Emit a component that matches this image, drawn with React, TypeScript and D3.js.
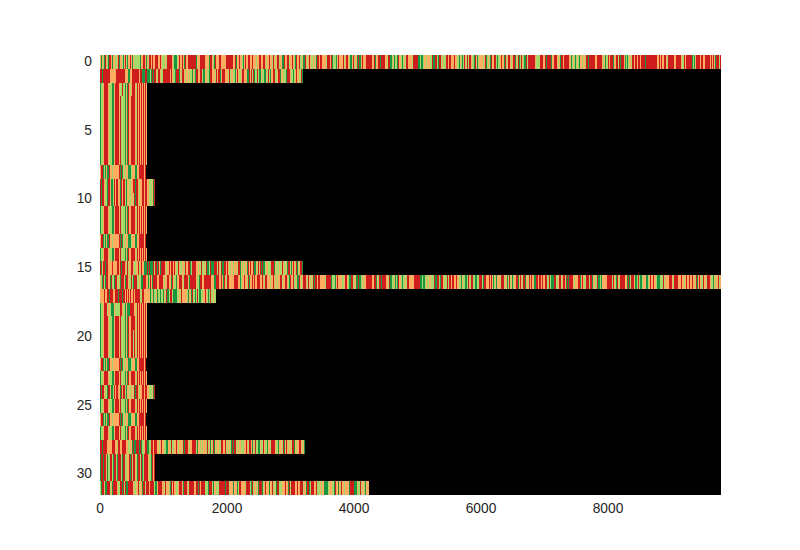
import React from "react";
import * as d3 from "d3";

// Each letter is one run of bases: R, O, L, G.
const baseCodes = ["R", "O", "L", "G"];
const baseColors = ["#cf1c1c", "#fdae61", "#a6d96a", "#1a9641"];

const row0 =
  "OGOLGROLGRROGOLLORGOOLGORLGOOROGOLLLLLLGORROGOLRROROORRROOROLLLOLRRRROLGGGLOROOROGROORRRRRRRRGOORRRRROOOOGRROLGROOORROOOOORRRRRROORGOOROOLGOROORROOROOLOORROORROLOOROOLROLORRLOOGROORRLOOROLGROORLLOGGROLOR" +
  "OLOLOGRRORROOOOLRRRORGLLLGOROOORLORROLGGORLOOGRGGOROOORRRRROORGOORRGRRRROOLRRGGLOGLGROOLGLOLRROOOOLRRRRRGGLGGLOLOOOLLRGGRRLGRRLOLLLRRORROOROOLLGOLGLROLRLRROLLGROGLOOOLORGLOLGROORRLGLLOROOGRLOROLORRGOL" +
  "RGLROLGGRLRRRRRRROLLLRRROORGRRRRGOORRROLOGRRORRRROOGLOLGLOLGOOLOOLRRGRRRRROORRRRROLOGLLRORRRGOORRLRGRROGLGLOOLRRORRORRORRRRGRRRRRRRRRROOROROORROLRRRRRROORRRROLLRORRRRRRGLGORRRRORROORRRROROROGRRRLR";
const row1 =
  "RRGRRRRRRROOOOOORRRRRRRROOOGGOORRRRRRRORRGGGRRGGGLGRGRROLRROLLRRRRRROROLLGRRRGOLRROLOOLOLLGOLGRROORRLGGOOLLGROOOLRORRGORRROOOLRLOOLLGOROLLORROOOGGRORLRGLRLGGOLLGGOLRLGOORRLLORRGOOLLLGRRROLLGLOROOLRG";
const row15 =
  "RGORRGRROOOOROOORRORGRRROLRLOORROLLOORLOROOGGRGRGGGRLRRGROGRRRROLOORORROROLROLLOOLROORRGLRRRROOLOLRLLOLRGLRGGGRRRLROLRGGRROROLLOOLOOOLRGOLOLOOGROROORGGOLRORGRGGLOOLLRRRGOLLLOLLROLLOGRRLGOROLRGLORG";
const row16 =
  "OLGRLGRROGRLLGRRLOLGRRROGROLLRLGRRRLLOLGGRROOGLROGRRRROORRROLOORROOGROLLGOORROLRRRROGRRRRRROLGRROORRRRRRROOOGRRROOROGROLRROOOORRRROOGLOOROOLRGOROROORRROOROLRROOLOOROLOLOORRLOOROLGROORLLOGGROLORROL" +
  "ROLOLRGRRORROOOOLRRRRRGLLLGOROOOLLORROLGGRRLOOGRGGLOLOORRRRRROORGOLRRGRRRROOLRGGLOGLGROOLGLLOLRROOOORRRRRRGGLGGLOLOOLLLRGGRRLGRROLLRLRRORROOROOLLGOLGGLROLRRLLGGLLRRLGRROOOROROGLOGOOLRRRLOOGLRLOGLOO" +
  "RGOROLRRGOOLROROOGRRORROROORRLLRLGGRRLLORRLORROGRGRRROLOOORRGOROLLRRLRRGOOLLRGGLGOOOORRRRRLROLGROLRRRROOGRGLRRROGGLRLGLOOOGGLOROOROOLGGLLLRLOOOORRROLRRROOOROOLOROOROOROLRGOROLLROOLRRROLGOLOORLO";
const row17 =
  "OOOOROORRGRRROORRRGRRRGRROROROROORORRRRRLLRROOOOOOGLOGLLOGLLGLLGOLRGGLRRLGGGGLLOLROOOOOLGOOGRLLGLRLGGLLOOROLGLRLLOLL";
const row28 =
  "RRGRRRROOOORRROOLRROORRRROOLOOGRGGRRRGRGLLORRGLLRRORRROOLOROOLLGOOLRLLOOROLOOOLRGRROLOORRRRLGOOLOLOOLRLOGOLRGOLOOLLRRORLOLOLGRGRRLOLOOLLOOROLRROGOLRLLGGOLROLLGOOLRRRROLLGOOLRGOROLOOLRRGOLOOROLOG";
const row31 =
  "LGRROGRRRLOGRRRROLRRGRLRGGRRRROLLOORLOOGRLRRRORRRRLGORRRROOLROOLGROROOLLORROGRRROLRRRROORRGRORRRRLLGRRRLGOOLLRRRRRRGRRRLOOGOOOGLRROOOLRRRRLGRLOLOGRRRGLOROOGOORLOLGRRLLOOOROOGRLRRROOROORRRLOGRRGLRRROORLLOLOOGGGGLOOLLGROOGOLROLOOOOGRRRRGGOLLRLOOLGOO";

const shortA = "GLLORRRROLLLGGORRRRORLLLGOGROORRRROLRORORORORO";
const shortA2 = "GLLORRRROLLLGGORRRROLLRLLGOGROLORRROLRORORORORO";
const shortA18 = "GLLORRRLOOLGGOLLLLLRROLLGOGGGRRRROLRORORORORO";
const shortA20 = "GLLORRRROLLLGGORRRRORLLLGOGROORRLROLRORORORORO";
const shortB = "ORRGLGOGGROOLOOOOOORGRGLOLOOGGGLOOOGGOORRRRROR";
const shortC = "RGRROLLGRROGGLRORROOGRORRLGOOLLOOLRGRROLOORRORROOLLLOGR";
const shortC2 = "RGRROLLGRROGGLRORROOGRORRLGOOLLOORRGRROLOORRORROOLLLOGR";
const shortD = "GRRGRROGLLRRLGRRLGRRRLGRRLLORGRLRROLGRRLRGLRRRROLLGROR";

const rowStrings = [
  row0, row1, shortA2, shortA, shortA, shortA, shortA, shortA, shortB, shortC2,
  shortC, shortA, shortA, shortB, shortA, row15, row16, row17, shortA18, shortA,
  shortA20, shortA20, shortB, shortA, shortC, shortA, shortB, shortA, row28, shortD,
  shortD, row31,
];
const rowLengths = [
  9780, 3190, 740, 740, 740, 740, 740, 740, 720, 866,
  866, 740, 740, 720, 740, 3190, 9780, 1820, 740, 740,
  740, 740, 720, 740, 866, 740, 720, 740, 3225, 866,
  866, 4230,
];
const xTicks = [0, 2000, 4000, 6000, 8000];
const yTicks = [0, 5, 10, 15, 20, 25, 30];

const X_MAX = 9780;
const FONT = "'Liberation Sans', Arial, sans-serif";

export default function App() {
  const x = d3.scaleLinear().domain([0, X_MAX]).rangeRound([100, 721]);
  const y = d3.scaleLinear().domain([0, rowStrings.length]).rangeRound([55, 495]);
  const color = d3.scaleOrdinal<string, string>().domain(baseCodes).range(baseColors);
  return (
    <svg
      width={800}
      height={550}
      style={{ position: "absolute", left: 0, top: 0, background: "#fff" }}
      fontFamily={FONT}
    >
      <rect x={x(0)} y={y(0)} width={x(X_MAX) - x(0)} height={y(32) - y(0)} fill="#000" />
      {rowStrings.map((s, r) => {
        const step = rowLengths[r] / s.length;
        return (
          <g key={r} shapeRendering="crispEdges">
            {s.split("").map((c, i) => (
              <rect
                key={i}
                x={x(i * step)}
                y={y(r)}
                width={x((i + 1) * step) - x(i * step)}
                height={y(r + 1) - y(r)}
                fill={color(c)}
              />
            ))}
          </g>
        );
      })}
      {xTicks.map((t) => (
        <text key={t} x={x(t)} y={513} textAnchor="middle" fontSize={13.75} fill="#262626">
          {t}
        </text>
      ))}
      {yTicks.map((t) => (
        <text
          key={t}
          x={92}
          y={y(t + 0.5) + 4}
          textAnchor="end"
          fontSize={13.75}
          fill="#262626"
        >
          {t}
        </text>
      ))}
    </svg>
  );
}
